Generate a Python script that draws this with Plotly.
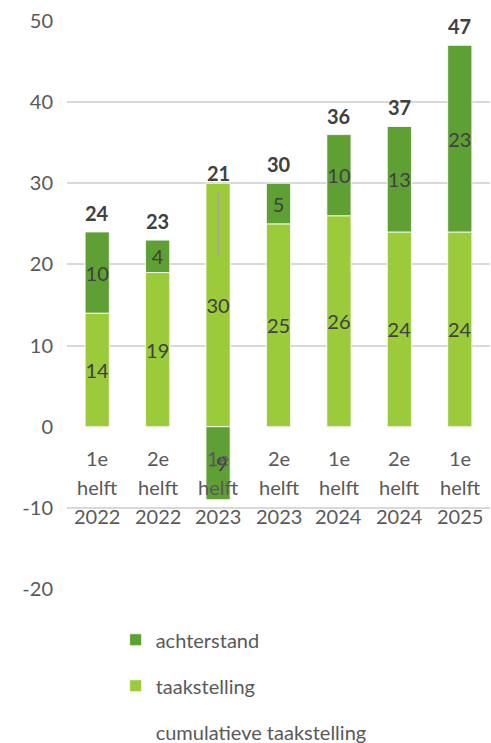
import plotly.graph_objects as go

categories = ["1e helft 2022", "2e helft 2022", "1e helft 2023", "2e helft 2023",
              "1e helft 2024", "2e helft 2024", "1e helft 2025"]
taakstelling = [14, 19, 30, 25, 26, 24, 24]
achterstand = [10, 4, -9, 5, 10, 13, 23]
totaal = [24, 23, 21, 30, 36, 37, 47]
grey_line_cat = [categories[2], categories[2]]
grey_line_y = [21, 29]
y_ticks = [-20, -10, 0, 10, 20, 30, 40, 50]
y_tick_text = ["-20", "-10", "0", "10", "20", "30", "40", "50"]

LIGHT = "#9BCB3B"
DARK = "#5FA035"
TXT = "#595959"
FONT = "Lato"

fig = go.Figure()
fig.add_trace(go.Bar(
    x=categories, y=taakstelling, name="taakstelling",
    marker=dict(color=LIGHT, line=dict(color="white", width=0.8)),
    text=taakstelling, textposition="inside", insidetextanchor="middle",
    constraintext="none", textfont=dict(family=FONT, size=20, color="#404040"),
    width=0.4, legendgroup="b", legendrank=2,
))
fig.add_trace(go.Bar(
    x=categories, y=achterstand, name="achterstand",
    marker=dict(color=DARK, line=dict(color="white", width=0.8)),
    text=achterstand, textposition="inside", insidetextanchor="middle",
    constraintext="none", textfont=dict(family=FONT, size=20, color="#404040"),
    width=0.4, legendgroup="a", legendrank=1,
))
fig.add_trace(go.Scatter(
    x=grey_line_cat, y=grey_line_y, mode="lines",
    line=dict(color="#A6A6A6", width=2), showlegend=False, hoverinfo="skip",
))
fig.add_trace(go.Scatter(
    x=[categories[0]], y=[None], mode="lines", name="cumulatieve taakstelling",
    line=dict(color="rgba(0,0,0,0)", width=0), legendgroup="c", legendrank=3,
))

annotations = []
for i, c in enumerate(categories):
    top = sum(v for v in (taakstelling[i], achterstand[i]) if v > 0)
    has_neg = achterstand[i] < 0 or taakstelling[i] < 0
    annotations.append(dict(
        x=c, y=top, text=f"<b>{totaal[i]}</b>", showarrow=False,
        yanchor="middle", yshift=10 if has_neg else 19,
        font=dict(family=FONT, size=20, color="#404040"),
    ))
    for j, part in enumerate(c.split(" ")):
        annotations.append(dict(
            x=c, y=0, text=part, showarrow=False, yanchor="middle",
            yshift=-31 - 29 * j,
            font=dict(family=FONT, size=20, color=TXT),
        ))

fig.update_layout(
    width=491, height=743,
    margin=dict(l=67, r=1, t=21, b=154, autoexpand=False),
    paper_bgcolor="white", plot_bgcolor="white",
    barmode="relative", bargap=0.6,
    showlegend=True,
    legend=dict(
        x=0.115, y=-0.055, xanchor="left", yanchor="top",
        traceorder="grouped", tracegroupgap=17,
        font=dict(family=FONT, size=20, color=TXT),
        itemwidth=30,
    ),
    annotations=annotations,
    xaxis=dict(showticklabels=False, showgrid=False, zeroline=False,
               showline=False, ticks="", automargin=False),
    yaxis=dict(
        range=[-20, 50], tickvals=y_ticks, ticktext=y_tick_text, showgrid=True,
        gridcolor="#D9D9D9", gridwidth=1.5, automargin=False,
        zeroline=True, zerolinecolor="white", zerolinewidth=2,
        showline=False, ticks="", ticklabelstandoff=13,
        tickfont=dict(family=FONT, size=20, color=TXT),
    ),
)

fig.write_html("out.html", config={"displayModeBar": False},
               post_script="document.body.style.margin='0';")
